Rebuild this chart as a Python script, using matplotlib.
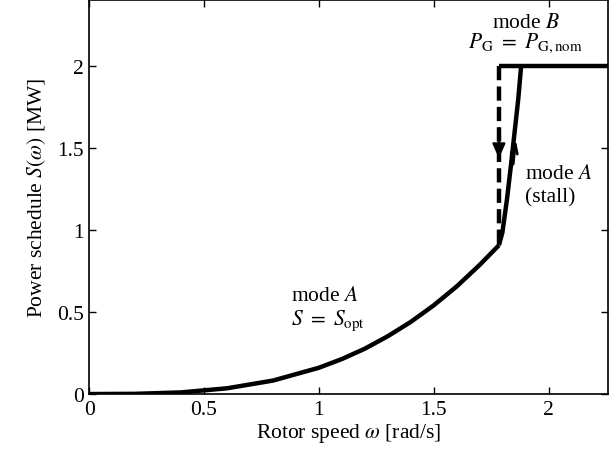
import numpy as np
import matplotlib
matplotlib.use('Agg')
import matplotlib.pyplot as plt

plt.rcParams['font.family'] = ['Liberation Serif', 'DejaVu Serif']
plt.rcParams['mathtext.fontset'] = 'stix'

# mode A, optimal tracking S = S_opt
w_opt = [0, 0.2, 0.4, 0.6, 0.8, 1.0, 1.1, 1.2, 1.3, 1.4, 1.5, 1.6, 1.7, 1.784]
s_opt = [0, 0.0013, 0.010, 0.035, 0.082, 0.16, 0.213, 0.276, 0.352, 0.439, 0.54, 0.655, 0.786, 0.906]

# mode A, stall branch
w_stall = [1.784, 1.799, 1.819, 1.836, 1.852, 1.868, 1.881]
s_stall = [0.906, 0.983, 1.185, 1.388, 1.591, 1.793, 2.0]

# mode B, nominal power
w_nom = [1.784, 2.26]
s_nom = [2.0, 2.0]

# switch back (dashed)
w_sw = [1.784, 1.784]
s_sw = [2.0, 0.906]

fig = plt.figure(figsize=(6.15, 4.52), dpi=100)
ax = fig.add_axes([0.145, 0.126, 0.844, 0.872])

lw = 3.2
ax.plot(w_opt, s_opt, 'k-', lw=lw, solid_capstyle='butt', solid_joinstyle='round')
ax.plot(w_stall, s_stall, 'k-', lw=lw, solid_capstyle='butt', solid_joinstyle='round')
ax.plot(w_nom, s_nom, 'k-', lw=lw, solid_capstyle='butt')
ax.plot(w_sw, s_sw, 'k--', lw=lw, dashes=(3.2, 1.4))

# arrows
ax.annotate('', xy=(1.784, 1.435), xytext=(1.784, 1.62),
            arrowprops=dict(arrowstyle='-|>,head_length=0.9,head_width=0.4',
                            color='k', lw=1.5, shrinkA=0, shrinkB=0))
ax.annotate('', xy=(1.857, 1.55), xytext=(1.846, 1.40),
            arrowprops=dict(arrowstyle='->,head_length=0.7,head_width=0.22',
                            color='k', lw=2.0, shrinkA=0, shrinkB=0))

fs = 15.5
ax.text(1.90, 2.26, 'mode $B$', ha='center', va='center', fontsize=fs)
ax.text(1.90, 2.14, r'$P_{\rm G}\ =\ P_{\rm G,nom}$', ha='center', va='center', fontsize=fs)
ax.text(1.896, 1.34, 'mode $A$', ha='left', va='center', fontsize=fs)
ax.text(1.896, 1.20, '(stall)', ha='left', va='center', fontsize=fs)
ax.text(0.88, 0.60, 'mode $A$', ha='left', va='center', fontsize=fs)
ax.text(0.88, 0.45, r'$S\ =\ S_{\rm opt}$', ha='left', va='center', fontsize=fs)

ax.set_xlim(0, 2.26)
ax.set_ylim(0, 2.4)
ax.set_xticks([0, 0.5, 1, 1.5, 2])
ax.set_xticklabels(['0', '0.5', '1', '1.5', '2'])
ax.set_yticks([0, 0.5, 1, 1.5, 2])
ax.set_yticklabels(['0', '0.5', '1', '1.5', '2'])
ax.tick_params(direction='in', top=True, right=True, length=5, width=1, labelsize=fs, pad=4)
for sp in ax.spines.values():
    sp.set_linewidth(1.2)
ax.set_xlabel(r'Rotor speed $\omega$ [rad/s]', fontsize=fs, labelpad=2)
ax.set_ylabel(r'Power schedule $S(\omega)$ [MW]', fontsize=fs, labelpad=6)

fig.savefig('out.png', dpi=100)
